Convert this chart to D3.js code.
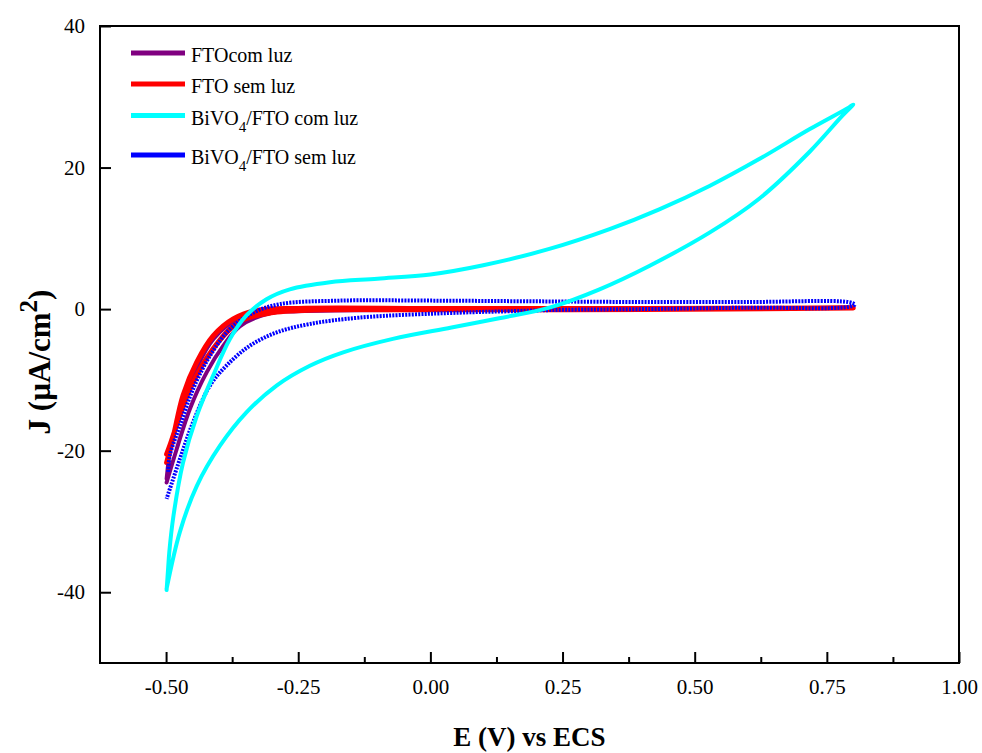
<!DOCTYPE html>
<html>
<head>
<meta charset="utf-8">
<script src="https://cdn.jsdelivr.net/npm/d3@7.9.0/dist/d3.min.js"></script>
<style>
  body { margin: 0; background: #fff; }
  svg { display: block; font-family: "Liberation Serif", "DejaVu Serif", serif; }
</style>
</head>
<body>
<svg id="chart" width="982" height="753"></svg>
<script>
// tick values
const xTicks = [-0.5, -0.25, 0, 0.25, 0.5, 0.75, 1.0];
const xMinorTicks = [-0.375, -0.125, 0.125, 0.375, 0.625, 0.875];
const yTicks = [-40, -20, 0, 20, 40];

// series, [E (V), J (uA/cm2)], each one a full CV loop
const ftoComLuz = [
  [-0.499, -24.5], [-0.480, -19.8], [-0.455, -14.1], [-0.423, -8.9], [-0.392, -5.2],
  [-0.360, -2.4], [-0.310, -0.7], [-0.25, -0.1], [0.0, 0.0], [0.4, 0.1], [0.8, 0.2],
  [0.4, 0.0], [0.0, -0.1], [-0.25, -0.3], [-0.32, -0.6], [-0.37, -1.6], [-0.41, -4.2],
  [-0.44, -8.0], [-0.47, -14.0], [-0.49, -19.0], [-0.499, -24.0]
];
const ftoSemLuz = [
  [-0.499, -21.7], [-0.486, -17.9], [-0.468, -12.2], [-0.442, -7.5], [-0.411, -3.8],
  [-0.373, -1.4], [-0.329, -0.2], [-0.25, 0.1], [0.0, 0.1], [0.4, 0.1], [0.8, 0.15],
  [0.4, -0.05], [0.0, -0.1], [-0.2, -0.1], [-0.297, -0.5], [-0.360, -1.7], [-0.411, -5.6],
  [-0.455, -11.3], [-0.493, -19.3], [-0.499, -20.5]
];
const bivoComLuz = [
  [-0.499, -39.7], [-0.496, -36.5], [-0.494, -34.4], [-0.486, -29.2], [-0.468, -21.7],
  [-0.442, -15.1], [-0.411, -9.4], [-0.379, -4.2], [-0.348, -0.9], [-0.310, 1.4],
  [-0.266, 2.8], [-0.190, 3.8], [-0.1, 4.3], [0.0, 4.9], [0.1, 6.2], [0.225, 8.5],
  [0.339, 11.3], [0.433, 14.1], [0.528, 17.4], [0.622, 21.2], [0.717, 25.4], [0.792, 28.5],
  [0.8, 28.9], [0.779, 27.3], [0.717, 22.2], [0.622, 15.6], [0.528, 10.8], [0.414, 6.1],
  [0.32, 2.8], [0.225, 0.2], [0.13, -1.3], [0.04, -2.6], [-0.071, -4.2], [-0.165, -6.1],
  [-0.228, -8.0], [-0.291, -10.8], [-0.348, -14.6], [-0.398, -19.3], [-0.442, -25.0],
  [-0.474, -31.5], [-0.499, -39.5]
];
const bivoSemLuz = [
  [-0.496, -23.0], [-0.493, -20.7], [-0.474, -16.5], [-0.449, -11.3], [-0.417, -6.6],
  [-0.379, -2.8], [-0.335, -0.5], [-0.285, 0.7], [-0.171, 1.2], [0.0, 1.2], [0.2, 1.1],
  [0.4, 1.0], [0.6, 1.0], [0.79, 1.0], [0.803, 0.65], [0.79, 0.3], [0.6, 0.2], [0.4, 0.0],
  [0.25, -0.1], [0.15, -0.3], [0.055, -0.5], [-0.134, -1.2], [-0.228, -2.1], [-0.291, -3.3],
  [-0.342, -5.2], [-0.386, -8.0], [-0.417, -10.8], [-0.449, -16.0], [-0.474, -21.2],
  [-0.499, -26.8]
];

const legendLabels = ['FTOcom luz', 'FTO sem luz', 'BiVO4/FTO com luz', 'BiVO4/FTO sem luz'];
const legendColors = ['#800080', '#ff0000', '#00ffff', '#0000ff'];

const svg = d3.select('#chart');
const plotLeft = 100, plotRight = 959, plotTop = 26, plotBottom = 663;

const x = d3.scaleLinear().domain([-0.625, 1.0]).range([plotLeft, plotRight]);
const y = d3.scaleLinear().domain([-50, 40]).range([plotBottom, plotTop]);

const line = d3.line()
  .x(d => x(d[0]))
  .y(d => y(d[1]))
  .curve(d3.curveCatmullRom.alpha(0.5));

// draw order: purple under red, blue dotted, cyan on top
const series = [
  { data: ftoComLuz, color: '#800080', width: 4, dash: null },
  { data: ftoSemLuz, color: '#ff0000', width: 5, dash: null },
  { data: bivoSemLuz, color: '#0000ff', width: 4, dash: '2,1.2' },
  { data: bivoComLuz, color: '#00ffff', width: 4, dash: null }
];

series.forEach(s => {
  svg.append('path')
    .attr('d', line(s.data))
    .attr('fill', 'none')
    .attr('stroke', s.color)
    .attr('stroke-width', s.width)
    .attr('stroke-linejoin', 'round')
    .attr('stroke-linecap', s.dash ? 'butt' : 'round')
    .attr('stroke-dasharray', s.dash);
});

// axes, ticks point inward
const xAxis = svg.append('g')
  .attr('transform', `translate(0,${plotBottom})`)
  .call(d3.axisBottom(x).tickValues(xTicks).tickSize(-11).tickPadding(16)
    .tickFormat(d => d.toFixed(2)));
svg.append('g')
  .attr('transform', `translate(0,${plotBottom})`)
  .call(d3.axisBottom(x).tickValues(xMinorTicks).tickSize(-6).tickFormat(''))
  .call(g => g.select('.domain').remove());

const yAxis = svg.append('g')
  .attr('transform', `translate(${plotLeft},0)`)
  .call(d3.axisLeft(y).tickValues(yTicks).tickSize(-11).tickPadding(15)
    .tickFormat(d => String(d)));

[xAxis, yAxis].forEach(g => {
  g.select('.domain').remove();
  g.selectAll('.tick text')
    .attr('font-family', '"Liberation Serif", serif')
    .attr('font-size', 21)
    .attr('fill', '#000');
});
svg.selectAll('.tick line').attr('stroke', '#000').attr('stroke-width', 2);

svg.append('rect')
  .attr('x', plotLeft).attr('y', plotTop)
  .attr('width', plotRight - plotLeft).attr('height', plotBottom - plotTop)
  .attr('fill', 'none').attr('stroke', '#000').attr('stroke-width', 2);

// axis titles
svg.append('text')
  .attr('x', (plotLeft + plotRight) / 2)
  .attr('y', 746)
  .attr('text-anchor', 'middle')
  .attr('font-size', 27)
  .attr('font-weight', 'bold')
  .text('E (V) vs ECS');

const yTitle = svg.append('text')
  .attr('transform', 'translate(50,362) rotate(-90)')
  .attr('text-anchor', 'middle')
  .attr('font-size', 31)
  .attr('font-weight', 'bold');
yTitle.append('tspan').text('J (\u00b5A/cm');
yTitle.append('tspan').attr('dy', -13).attr('font-size', 25).text('2');
yTitle.append('tspan').attr('dy', 13).text(')');

// legend
const legendY = [53, 84, 115.5, 155];
legendLabels.forEach((label, i) => {
  const g = svg.append('g');
  g.append('line')
    .attr('x1', 131).attr('x2', 185)
    .attr('y1', legendY[i]).attr('y2', legendY[i])
    .attr('stroke', legendColors[i]).attr('stroke-width', 5);
  const t = g.append('text')
    .attr('x', 191).attr('y', legendY[i] + 9)
    .attr('font-size', 20);
  const parts = label.split('4');
  if (parts.length > 1) {
    t.append('tspan').text(parts[0]);
    t.append('tspan').attr('dy', 7).attr('font-size', 15).text('4');
    t.append('tspan').attr('dy', -7).text(parts[1]);
  } else {
    t.text(label);
  }
});
</script>
</body>
</html>
